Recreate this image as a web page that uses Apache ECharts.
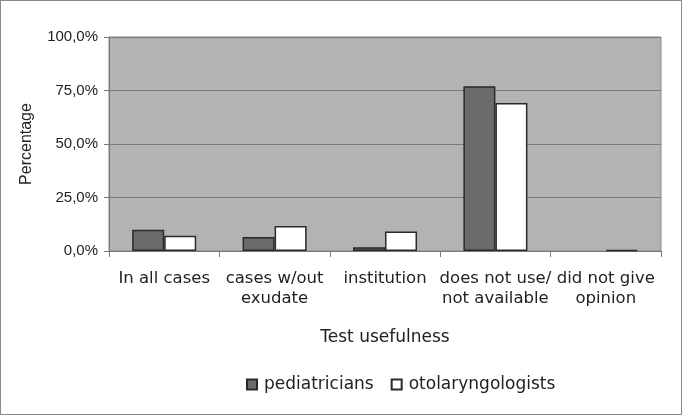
<!DOCTYPE html>
<html>
<head>
<meta charset="utf-8">
<script src="https://cdn.jsdelivr.net/npm/echarts@6/dist/echarts.min.js"></script>
<style>
  html, body { margin: 0; padding: 0; background: #fff; }
  #chart { width: 682px; height: 415px; box-sizing: border-box; border: 1px solid #8a8a8a; }
</style>
</head>
<body>
<div id="chart"></div>
<script>
const categories = [
  'In all cases',
  'cases w/out\nexudate',
  'institution',
  'does not use/\nnot available',
  'did not give\nopinion',
]
const pediatricians = [9.9, 6.5, 1.8, 77.0, 0]
const otolaryngologists = [7.1, 11.7, 9.1, 69.2, 0.5]
const yTicks = [0, 25, 50, 75, 100]

const chart = echarts.init(document.getElementById('chart'))

const barStyle = (color) => ({
  color,
  borderColor: '#2a2a2a',
  borderWidth: 1.5,
})

// zero-height bars get no outline, like the source
const toBars = (values) =>
  values.map((v) => (v === 0 ? { value: v, itemStyle: { borderWidth: 0 } } : v))

chart.setOption({
  animation: false,
  backgroundColor: '#fff',
  textStyle: { fontFamily: 'DejaVu Sans' },
  grid: {
    left: 108,
    right: 20,
    top: 36,
    bottom: 163,
    show: true,
    backgroundColor: '#b3b3b3',
    borderColor: '#8a8a8a',
    borderWidth: 1,
  },
  legend: {
    top: 370,
    left: 240,
    icon: 'rect',
    itemWidth: 10,
    itemHeight: 10,
    itemGap: 17,
    textStyle: { fontFamily: 'DejaVu Sans', fontSize: 17, color: '#222', padding: [0, 0, 0, 2] },
    data: ['pediatricians', 'otolaryngologists'],
  },
  xAxis: {
    type: 'category',
    data: categories,
    name: 'Test usefulness',
    nameLocation: 'middle',
    nameGap: 78,
    nameTextStyle: { fontFamily: 'DejaVu Sans', fontSize: 17, color: '#222' },
    axisLine: { lineStyle: { color: '#777', width: 1 } },
    axisTick: { show: true, length: 6, lineStyle: { color: '#777' } },
    axisLabel: {
      fontFamily: 'DejaVu Sans',
      fontSize: 16.5,
      color: '#222',
      lineHeight: 20,
      margin: 18,
      interval: 0,
    },
  },
  yAxis: {
    type: 'value',
    min: yTicks[0],
    max: yTicks[yTicks.length - 1],
    interval: 25,
    name: 'Percentage',
    nameLocation: 'middle',
    nameGap: 74,
    nameTextStyle: { fontFamily: 'Liberation Sans', fontSize: 16, color: '#222' },
    axisLine: { show: true, lineStyle: { color: '#777' } },
    axisTick: { show: true, length: 5, lineStyle: { color: '#777' } },
    axisLabel: {
      fontFamily: 'Liberation Sans',
      fontSize: 15,
      color: '#222',
      margin: 11,
      formatter: (v) => v.toFixed(1).replace('.', ',') + '%',
    },
    splitLine: { lineStyle: { color: '#7a7a7a', width: 1 } },
  },
  series: [
    {
      name: 'pediatricians',
      type: 'bar',
      data: toBars(pediatricians),
      barGap: '0%',
      barCategoryGap: '42%',
      itemStyle: barStyle('#6b6b6b'),
    },
    {
      name: 'otolaryngologists',
      type: 'bar',
      data: toBars(otolaryngologists),
      itemStyle: barStyle('#ffffff'),
    },
  ],
})
</script>
</body>
</html>
